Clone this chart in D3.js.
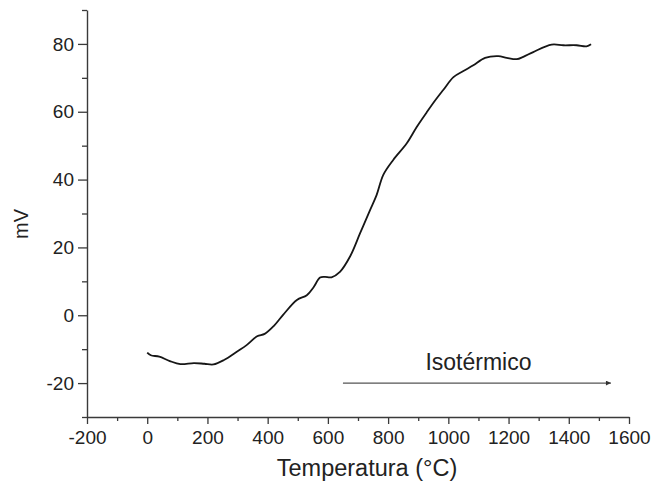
<!DOCTYPE html>
<html>
<head>
<meta charset="utf-8">
<script src="https://cdn.jsdelivr.net/npm/d3@7"></script>
<style>
  body { margin: 0; background: #fff; }
  svg { display: block; }
  svg text { font-family: "Liberation Sans", Arial, sans-serif; }
</style>
</head>
<body>
<div id="chart"></div>
<script>
// temperature (°C) and signal (mV)
const temperature = [0, 12, 40, 75, 110, 155, 190, 220, 255, 300, 330, 365, 390, 420, 452, 497, 530, 552, 574, 590, 612, 640,
    674, 707, 740, 762, 784, 817, 862, 895, 928, 956, 983, 1017, 1050, 1083, 1122, 1166, 1194, 1227, 1249, 1282, 1343,
    1382, 1426, 1459, 1474]
const millivolts = [-11, -11.8, -12.2, -13.5, -14.4, -14.1, -14.3, -14.5, -13.2, -10.6, -8.8, -6.2, -5.5, -3.2, 0.2, 4.5, 5.9, 8.2,
    11.1, 11.3, 11.2, 12.8, 17.4, 24.2, 31, 35.5, 41.4, 45.8, 50.7, 55.5, 59.8, 63.3, 66.4, 70.2, 72, 73.7, 75.9, 76.4,
    75.9, 75.5, 76.2, 77.6, 79.8, 79.6, 79.6, 79.3, 79.9]

const xTicks = [-200, 0, 200, 400, 600, 800, 1000, 1200, 1400, 1600]
const xMinorTicks = [-100, 100, 300, 500, 700, 900, 1100, 1300, 1500]
const yTicks = [-20, 0, 20, 40, 60, 80]
const yMinorTicks = [-30, -10, 10, 30, 50, 70, 90]

// isothermal annotation (data coords)
const isoLabel = 'Isotérmico'
const isoArrow = [650, 1540]
const isoLevel = -20

const width = 661, height = 483
const margin = {top: 10, right: 32, bottom: 66, left: 87}
const axisColor = '#3a3a3a'
const font = '"Liberation Sans", Arial, sans-serif'

const svg = d3.select('#chart').append('svg')
    .attr('width', width)
    .attr('height', height)

const x = d3.scaleLinear()
    .domain([-200, 1600])
    .range([margin.left, width - margin.right])

const y = d3.scaleLinear()
    .domain([-30, 90])
    .range([height - margin.bottom, margin.top])

// minor ticks first so the major axes sit on top
svg.append('g')
    .attr('transform', `translate(0, ${y(-30)})`)
    .call(d3.axisBottom(x).tickValues(xMinorTicks).tickSize(4).tickFormat(''))
    .call(g => g.select('.domain').remove())
    .selectAll('line').attr('stroke', axisColor).attr('stroke-width', 1.3)

svg.append('g')
    .attr('transform', `translate(${x(-200)}, 0)`)
    .call(d3.axisLeft(y).tickValues(yMinorTicks).tickSize(5).tickFormat(''))
    .call(g => g.select('.domain').remove())
    .selectAll('line').attr('stroke', axisColor).attr('stroke-width', 1.3)

const xAxis = svg.append('g')
    .attr('transform', `translate(0, ${y(-30)})`)
    .call(d3.axisBottom(x).tickValues(xTicks).tickSize(7).tickSizeOuter(0).tickPadding(7).tickFormat(d => String(d)))
    .attr('font-family', font)
xAxis.select('.domain').attr('stroke', axisColor).attr('stroke-width', 1.4)
xAxis.selectAll('line').attr('stroke', axisColor).attr('stroke-width', 1.3)
xAxis.selectAll('text')
    .attr('fill', '#222')
    .style('font-size', '19px')

const yAxis = svg.append('g')
    .attr('transform', `translate(${x(-200)}, 0)`)
    .call(d3.axisLeft(y).tickValues(yTicks).tickSize(9).tickSizeOuter(0).tickPadding(4).tickFormat(d => String(d)))
    .attr('font-family', font)
yAxis.select('.domain').attr('stroke', axisColor).attr('stroke-width', 1.4)
yAxis.selectAll('line').attr('stroke', axisColor).attr('stroke-width', 1.3)
yAxis.selectAll('text')
    .attr('fill', '#222')
    .style('font-size', '19px')

svg.append('text')
    .text('Temperatura (°C)')
    .attr('x', 367)
    .attr('y', 476)
    .attr('text-anchor', 'middle')
    .attr('fill', '#222')
    .style('font-size', '23.5px')

svg.append('text')
    .text('mV')
    .attr('transform', 'translate(28, 224) rotate(-90)')
    .attr('text-anchor', 'middle')
    .attr('fill', '#222')
    .style('font-size', '20px')

// curve
const line = d3.line()
    .x((d, i) => x(temperature[i]))
    .y(d => y(d))
    .curve(d3.curveCatmullRom.alpha(0.5))

svg.append('path')
    .datum(millivolts)
    .attr('d', line)
    .attr('fill', 'none')
    .attr('stroke', '#161616')
    .attr('stroke-width', 1.8)

// isothermal arrow
svg.append('defs').append('marker')
    .attr('id', 'head')
    .attr('viewBox', '0 0 10 10')
    .attr('refX', 10)
    .attr('refY', 5)
    .attr('markerWidth', 11)
    .attr('markerHeight', 5)
    .attr('markerUnits', 'userSpaceOnUse')
    .attr('orient', 'auto')
    .append('path')
    .attr('d', 'M0,0 L10,5 L0,10 Z')
    .attr('fill', '#333')

svg.append('line')
    .attr('x1', x(isoArrow[0]))
    .attr('x2', x(isoArrow[1]))
    .attr('y1', y(isoLevel))
    .attr('y2', y(isoLevel))
    .attr('stroke', '#555')
    .attr('stroke-width', 1.4)
    .attr('marker-end', 'url(#head)')

svg.append('text')
    .text(isoLabel)
    .attr('x', x(1100))
    .attr('y', y(-16.2))
    .attr('text-anchor', 'middle')
    .attr('fill', '#222')
    .style('font-size', '23px')
</script>
</body>
</html>
